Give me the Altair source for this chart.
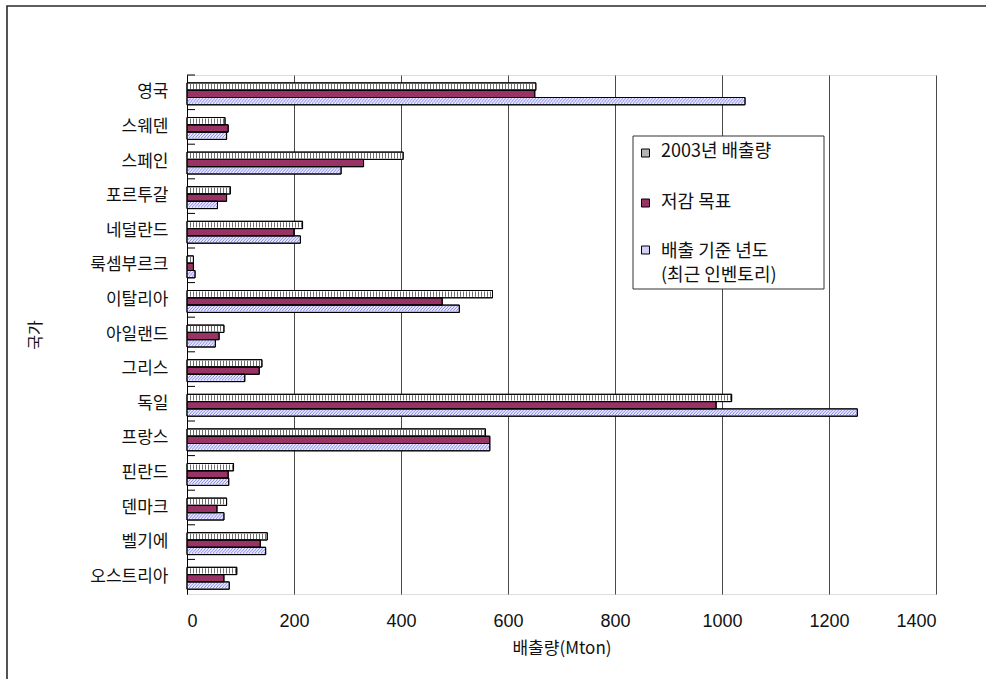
import altair as alt
import pandas as pd

# Countries, top to bottom
COUNTRIES = ["영국", "스웨덴", "스페인", "포르투갈", "네덜란드", "룩셈부르크", "이탈리아",
             "아일랜드", "그리스", "독일", "프랑스", "핀란드", "덴마크", "벨기에", "오스트리아"]
SERIES = ["2003년 배출량", "저감 목표", "배출 기준 년도\n(최근 인벤토리)"]

# Emissions (Mton CO2-eq)
EMIS_2003 = [652, 71, 404, 81, 216, 12, 571, 69, 140, 1018, 558, 87, 74, 150, 93]
TARGET = [650, 77, 330, 74, 200, 12, 477, 60, 135, 989, 566, 77, 56, 137, 69]
BASE_YEAR = [1043, 74, 288, 57, 212, 15, 509, 53, 108, 1253, 566, 78, 69, 147, 79]
X_TICKS = [0, 200, 400, 600, 800, 1000, 1200, 1400]

FILLS = ["#ffffff", "#993366", "#e6e6ff"]
STRIPE = "#6e6e6e"
HATCH = "#8c8cec"
KR = "Noto Sans CJK KR"

# layout (pixels)
LEFT, TOP, W, H = 187, 75, 749, 519
BW = H / len(COUNTRIES)          # band per country
BAR_H = 7.3                      # one bar
GAP_TOP = 7.9                    # space above the group inside a band
SPACE = BW - 3 * BAR_H
P_OUTER = (BW / BAR_H - 3) / 2
ALIGN = GAP_TOP / SPACE

rows = []
for i, c in enumerate(COUNTRIES):
    for s, vals in zip(SERIES, (EMIS_2003, TARGET, BASE_YEAR)):
        rows.append({"country": c, "series": s, "value": vals[i], "zero": 0})
df = pd.DataFrame(rows)

x_axis = alt.Axis(values=X_TICKS, format="d", grid=True, gridColor="#4a4a4a",
                  gridWidth=1, ticks=False, domain=False,
                  labelFont="Liberation Sans", labelFontSize=18,
                  labelColor="#111", labelPadding=18,
                  title="배출량(Mton)", titleFont=KR, titleFontSize=17,
                  titleFontWeight="normal", titleColor="#111",
                  titleBaseline="middle", titleY=54)
x_scale = alt.Scale(domain=[0, 1400], nice=False, zero=True)

y_axis = alt.Axis(title="국가", ticks=False, domainColor="black", domainWidth=1,
                  labelFont=KR, labelFontSize=17, labelColor="#111",
                  labelPadding=19, titleFont=KR, titleFontSize=16,
                  titleFontWeight="normal", titleColor="#111", titleAngle=-90,
                  titleBaseline="middle", titleX=35 - LEFT, titleY=H / 2)
y_scale = alt.Scale(paddingInner=0, paddingOuter=0)


def xq(field):
    return alt.X(field, type="quantitative", scale=x_scale, axis=x_axis)


def yc(band=None):
    if band is None:
        return alt.Y("country:N", sort=COUNTRIES, scale=y_scale, axis=y_axis)
    return alt.Y("country:N", sort=COUNTRIES, scale=y_scale, axis=y_axis,
                 bandPosition=band)


yoff = alt.YOffset("series:N", sort=SERIES,
                   scale=alt.Scale(domain=SERIES, paddingInner=0,
                                   paddingOuter=P_OUTER, align=ALIGN))

base = alt.Chart(df)

bars = base.mark_bar(stroke="black", strokeWidth=1).encode(
    x=xq("zero"), x2="value:Q", y=yc(), yOffset=yoff,
    color=alt.Color("series:N", scale=alt.Scale(domain=SERIES, range=FILLS),
                    legend=None),
)

# vertical stripes on the 2003 bars
stripes = base.transform_filter(alt.datum.series == SERIES[0]).mark_rule(
    color=STRIPE, strokeWidth=BAR_H - 2, strokeDash=[1, 2], strokeCap="butt"
).encode(x=xq("zero"), x2="value:Q", y=yc((GAP_TOP + BAR_H / 2) / BW))

# diagonal hatch on the base-year bars
hatch_layers = []
blue_top = GAP_TOP + 2 * BAR_H
for k in range(5):
    hatch_layers.append(
        base.transform_filter(alt.datum.series == SERIES[2]).mark_rule(
            color=HATCH, strokeWidth=1.1, strokeDash=[1, 2],
            strokeDashOffset=k, strokeCap="butt"
        ).encode(x=xq("zero"), x2="value:Q",
                 y=yc((blue_top + 1.2 + 1.1 * k) / BW))
    )

outline = base.mark_bar(fillOpacity=0, stroke="black", strokeWidth=1).encode(
    x=xq("zero"), x2="value:Q", y=yc(), yOffset=yoff,
)

# inward category ticks on the vertical axis
ticks = base.transform_filter(alt.datum.series == SERIES[0]).mark_rule(
    color="black", strokeWidth=1
).encode(y=yc(0), x=alt.value(0), x2=alt.value(8))

one = alt.Chart(pd.DataFrame({"k": [0]}))

frame = one.mark_rect(fill="white", fillOpacity=0, stroke="#2a2a2a",
                      strokeWidth=1.6).encode(
    x=alt.value(7 - LEFT), x2=alt.value(992 - LEFT),
    y=alt.value(6 - TOP), y2=alt.value(690 - TOP))

# legend box
leg_box = one.mark_rect(fill="white", stroke="#333", strokeWidth=1).encode(
    x=alt.value(446), x2=alt.value(637), y=alt.value(61), y2=alt.value(214))

leg_sym_y = [78, 128, 175]
LEG_FILLS = ["#b4b4b4", FILLS[1], "#d2d2f6"]
leg_syms = []
for fy, fc in zip(leg_sym_y, LEG_FILLS):
    leg_syms.append(one.mark_square(size=64, fill=fc, stroke="black",
                                    strokeWidth=1, opacity=1).encode(
        x=alt.value(458.5), y=alt.value(fy)))

leg_lines = SERIES[0:2] + SERIES[2].split("\n")
leg_text_y = [77, 128, 177, 201]
leg_texts = []
for t, ty in zip(leg_lines, leg_text_y):
    leg_texts.append(one.mark_text(align="left", baseline="middle", font=KR,
                                   fontSize=18, color="#111").encode(
        x=alt.value(474), y=alt.value(ty), text=alt.value(t)))

chart = alt.layer(
    frame, bars, stripes, *hatch_layers, outline, ticks, leg_box,
    *leg_syms, *leg_texts
).properties(
    width=W, height=H,
    autosize=alt.AutoSizeParams(type="none"),
    padding={"left": LEFT, "top": TOP, "right": 986 - LEFT - W,
             "bottom": 679 - TOP - H},
).configure_view(stroke="black", strokeWidth=1).configure(background="white")

chart.save("out.html", embed_options={"renderer": "svg", "actions": False})
